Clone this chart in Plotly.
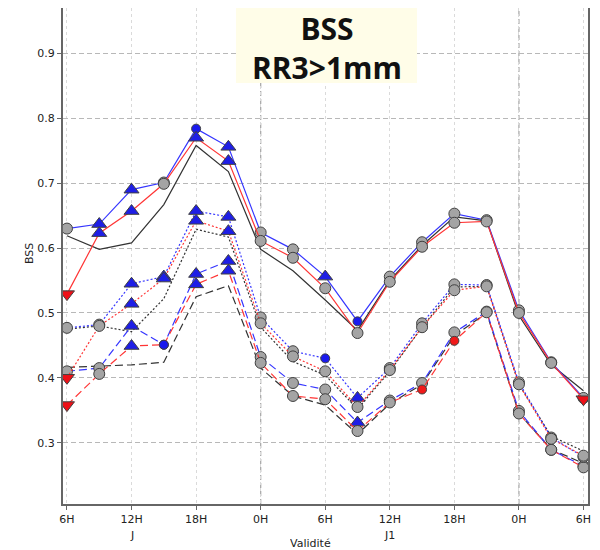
import plotly.graph_objects as go

# ---------------- data ----------------
hours = [0, 3, 6, 9, 12, 15, 18, 21, 24, 27, 30, 33, 36, 39, 42, 45, 48]
tick_hours = [0, 6, 12, 18, 24, 30, 36, 42, 48]
tick_labels = ["6H", "12H", "18H", "0H", "6H", "12H", "18H", "0H", "6H"]
day_hours = [6, 30]
day_labels = ["J", "J1"]
y_ticks = [0.3, 0.4, 0.5, 0.6, 0.7, 0.8, 0.9]

black_solid = [0.619, 0.598, 0.608, 0.667, 0.758, 0.718, 0.598, 0.565, 0.520, 0.473, 0.550, 0.604, 0.648, 0.642, 0.496, 0.420, 0.380]
blue_solid = [0.630, 0.637, 0.690, 0.701, 0.784, 0.756, 0.624, 0.598, 0.556, 0.487, 0.556, 0.609, 0.653, 0.643, 0.504, 0.424, 0.369]
red_solid = [0.529, 0.623, 0.657, 0.699, 0.770, 0.734, 0.611, 0.585, 0.538, 0.469, 0.548, 0.602, 0.639, 0.641, 0.500, 0.423, 0.367]

black_dot = [0.475, 0.480, 0.471, 0.522, 0.629, 0.617, 0.478, 0.425, 0.404, 0.352, 0.410, 0.478, 0.540, 0.541, 0.390, 0.310, 0.287]
blue_dot = [0.477, 0.482, 0.545, 0.556, 0.657, 0.648, 0.493, 0.441, 0.430, 0.369, 0.415, 0.484, 0.544, 0.543, 0.393, 0.308, 0.278]
red_dot = [0.400, 0.480, 0.514, 0.553, 0.642, 0.626, 0.484, 0.433, 0.410, 0.355, 0.412, 0.478, 0.535, 0.541, 0.390, 0.306, 0.280]

black_dash = [0.416, 0.418, 0.420, 0.424, 0.525, 0.542, 0.415, 0.372, 0.358, 0.313, 0.360, 0.390, 0.465, 0.500, 0.345, 0.290, 0.268]
blue_dash = [0.410, 0.415, 0.480, 0.451, 0.560, 0.580, 0.432, 0.392, 0.382, 0.331, 0.365, 0.392, 0.470, 0.502, 0.349, 0.289, 0.264]
red_dash = [0.358, 0.406, 0.449, 0.451, 0.544, 0.565, 0.423, 0.372, 0.367, 0.318, 0.362, 0.382, 0.457, 0.501, 0.345, 0.289, 0.262]

# significance category per point
blue_solid_sig = ["ns", "up", "up", "ns", "upw", "up", "ns", "ns", "up", "upw", "ns", "ns", "ns", "ns", "ns", "ns", "ns"]
red_solid_sig = ["down", "up", "up", "ns", "up", "up", "ns", "ns", "ns", "ns", "ns", "ns", "ns", "ns", "ns", "ns", "down"]
blue_dot_sig = ["ns", "ns", "up", "up", "up", "up", "ns", "ns", "upw", "up", "ns", "ns", "ns", "ns", "ns", "ns", "ns"]
red_dot_sig = ["down", "ns", "up", "up", "up", "up", "ns", "ns", "ns", "ns", "ns", "ns", "ns", "ns", "ns", "ns", "ns"]
blue_dash_sig = ["ns", "ns", "up", "upw", "up", "up", "ns", "ns", "ns", "up", "ns", "ns", "ns", "ns", "ns", "ns", "ns"]
red_dash_sig = ["down", "ns", "up", "upw", "up", "up", "ns", "ns", "ns", "ns", "ns", "downw", "downw", "ns", "ns", "ns", "ns"]

# ---------------- styles ----------------
SIG_STYLE = {
    "ns": ("circle", 11, "#a4a4a4"),
    "up": ("triangle-up", 13, "#1e1ee6"),
    "down": ("triangle-down", 13, "#ee1018"),
    "upw": ("circle", 9, "#1a1aee"),
    "downw": ("circle", 9, "#f01a1a"),
}
BLACK = "#333333"
BLUE = "#3535ff"
RED = "#ff3535"
DOT = "2px,2px"
DASH = "8px,4px"

fig = go.Figure()


def add_plain(y, color, dash):
    fig.add_trace(go.Scatter(x=hours, y=y, mode="lines",
                             line=dict(color=color, width=1.2, dash=dash),
                             showlegend=False, hoverinfo="skip"))


def add_marked(y, sig, color, dash):
    fig.add_trace(go.Scatter(
        x=hours, y=y, mode="lines+markers",
        line=dict(color=color, width=1.2, dash=dash),
        marker=dict(symbol=[SIG_STYLE[s][0] for s in sig],
                    size=[SIG_STYLE[s][1] for s in sig],
                    color=[SIG_STYLE[s][2] for s in sig],
                    opacity=1,
                    line=dict(color="#404040", width=1)),
        opacity=1,
        showlegend=False, hoverinfo="skip"))


add_plain(black_dash, BLACK, DASH)
add_plain(black_dot, BLACK, DOT)
add_plain(black_solid, BLACK, "solid")
add_marked(blue_dash, blue_dash_sig, BLUE, DASH)
add_marked(red_dash, red_dash_sig, RED, DASH)
add_marked(blue_dot, blue_dot_sig, BLUE, DOT)
add_marked(red_dot, red_dot_sig, RED, DOT)
add_marked(blue_solid, blue_solid_sig, BLUE, "solid")
add_marked(red_solid, red_solid_sig, RED, "solid")

# vertical day separators (0H)
for h, lab in zip(tick_hours, tick_labels):
    if lab == "0H":
        fig.add_shape(type="line", xref="x", yref="paper", x0=h, x1=h, y0=0, y1=1,
                      line=dict(color="#ababab", width=1.3, dash="5px,3px"), layer="below")

# title box
fig.add_shape(type="rect", xref="paper", yref="paper",
              x0=0.3295, x1=0.6743, y0=0.8488, y1=1.0,
              fillcolor="#fffde8", line=dict(width=0), layer="above")
fig.add_annotation(xref="paper", yref="paper", x=0.503, y=1 - 40 / 496,
                   text="<b>BSS</b><br><b>RR3&gt;1mm</b>",
                   showarrow=False, font=dict(family="Open Sans", size=30, color="#111111"),
                   xanchor="center", yanchor="middle", align="center", height=72)

for h, lab in zip(day_hours, day_labels):
    fig.add_annotation(xref="x", yref="paper", x=h, y=0, yshift=-31, text=lab,
                       showarrow=False, font=dict(family="DejaVu Sans", size=11, color="#222222"),
                       xanchor="center", yanchor="middle")

fig.add_annotation(xref="paper", yref="paper", x=(310 - 63) / 525, y=0, yshift=-39,
                   text="Validité", showarrow=False, height=12,
                   font=dict(family="DejaVu Sans", size=11, color="#222222"),
                   xanchor="center", yanchor="middle")
fig.add_annotation(xref="paper", yref="paper", x=0, xshift=-34, y=0.5, yshift=2,
                   text="BSS", textangle=-90, showarrow=False,
                   font=dict(family="DejaVu Sans", size=11, color="#222222"),
                   xanchor="center", yanchor="middle")

fig.update_layout(
    width=600, height=550,
    margin=dict(l=55, r=20, t=0, b=54),
    paper_bgcolor="white", plot_bgcolor="white",
    font=dict(family="DejaVu Sans", size=11, color="#222222"),
    xaxis=dict(range=[-0.37, 48.42], tickvals=tick_hours, ticktext=tick_labels,
               showgrid=True, gridcolor="#dadada", griddash="dot", gridwidth=1,
               zeroline=False, showline=True, linecolor="#666666", linewidth=2,
               ticks="outside", ticklen=4, tickcolor="#666666", automargin=False),
    yaxis=dict(range=[0.2055, 0.97], tickvals=y_ticks, ticktext=[f"{v:.1f}" for v in y_ticks],
               showgrid=True, gridcolor="#b8b8b8", griddash="5px,3px", gridwidth=1.3,
               zeroline=False, showline=True, linecolor="#666666", linewidth=2, mirror=True,
               ticks="outside", ticklen=4, tickcolor="#666666", automargin=False),
)

fig.write_html("out.html")
